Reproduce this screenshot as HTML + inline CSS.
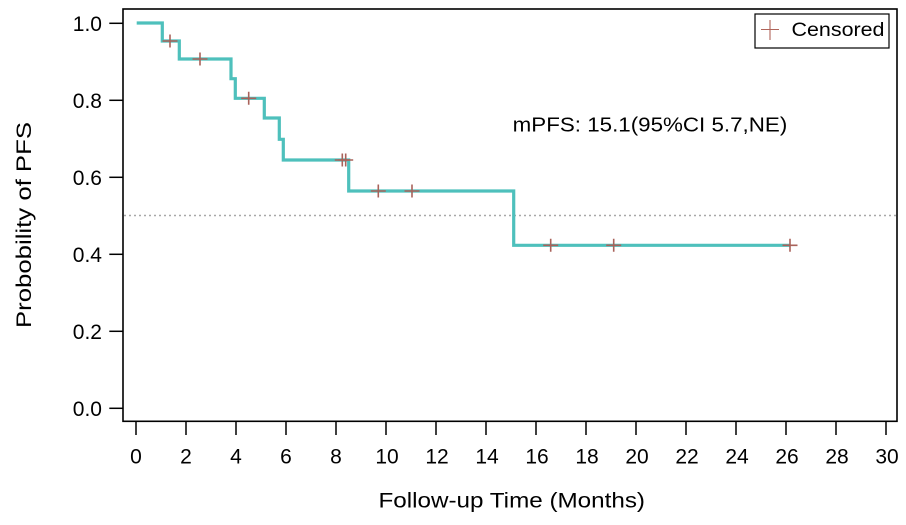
<!DOCTYPE html>
<html><head><meta charset="utf-8"><style>
html,body{margin:0;padding:0;background:#fff;}
svg{display:block;}
text{font-family:"Liberation Sans",Arial,sans-serif;fill:#000;}
</style></head><body>
<svg width="906" height="525" viewBox="0 0 906 525" xmlns="http://www.w3.org/2000/svg">
<rect x="0" y="0" width="906" height="525" fill="#fff"/>
<!-- reference line -->
<line x1="124" y1="215.5" x2="896" y2="215.5" stroke="#a8a8a8" stroke-width="1.5" stroke-dasharray="2 3"/>
<!-- KM curve -->
<polyline fill="none" stroke="#4ec0bc" stroke-width="3.2" stroke-linejoin="miter" points="136.7,23 162.3,23 162.3,41 179.3,41 179.3,59 231,59 231,78.7 235.3,78.7 235.3,98.3 264.3,98.3 264.3,118 279.3,118 279.3,139.3 283.3,139.3 283.3,160 348.7,160 348.7,191 513.7,191 513.7,245.3 790,245.3"/>
<!-- censor marks -->
<g stroke="#a9625a" stroke-width="1.6">
<path d="M162.5,41h15M170,34.5v13"/>
<path d="M192.5,59h15M200,52.5v13"/>
<path d="M241.2,98.3h15M248.7,91.8v13"/>
<path d="M334.8,160h15M342.3,153.5v13"/>
<path d="M338.2,160h15M345.7,153.5v13"/>
<path d="M370.8,191h15M378.3,184.5v13"/>
<path d="M404.5,191h15M412,184.5v13"/>
<path d="M543.2,245.3h15M550.7,238.8v13"/>
<path d="M606.2,245.3h15M613.7,238.8v13"/>
<path d="M782.5,245.3h15M790,238.8v13"/>
</g>
<!-- frame -->
<rect x="123" y="9" width="774" height="412.3" fill="none" stroke="#000" stroke-width="1.6"/>
<!-- y ticks -->
<g stroke="#000" stroke-width="1.5">
<line x1="109.3" y1="23.3" x2="123" y2="23.3"/>
<line x1="109.3" y1="100.3" x2="123" y2="100.3"/>
<line x1="109.3" y1="177.3" x2="123" y2="177.3"/>
<line x1="109.3" y1="254.3" x2="123" y2="254.3"/>
<line x1="109.3" y1="331.3" x2="123" y2="331.3"/>
<line x1="109.3" y1="408.3" x2="123" y2="408.3"/>
</g>
<g font-size="21" text-anchor="end">
<text x="102" y="30.8">1.0</text>
<text x="102" y="107.8">0.8</text>
<text x="102" y="184.8">0.6</text>
<text x="102" y="261.8">0.4</text>
<text x="102" y="338.8">0.2</text>
<text x="102" y="415.8">0.0</text>
</g>
<!-- x ticks -->
<g stroke="#000" stroke-width="1.5">
<line x1="136" y1="421" x2="136" y2="435"/>
<line x1="186" y1="421" x2="186" y2="435"/>
<line x1="236" y1="421" x2="236" y2="435"/>
<line x1="286" y1="421" x2="286" y2="435"/>
<line x1="336" y1="421" x2="336" y2="435"/>
<line x1="386" y1="421" x2="386" y2="435"/>
<line x1="436" y1="421" x2="436" y2="435"/>
<line x1="486" y1="421" x2="486" y2="435"/>
<line x1="536" y1="421" x2="536" y2="435"/>
<line x1="586" y1="421" x2="586" y2="435"/>
<line x1="636" y1="421" x2="636" y2="435"/>
<line x1="686" y1="421" x2="686" y2="435"/>
<line x1="736" y1="421" x2="736" y2="435"/>
<line x1="786" y1="421" x2="786" y2="435"/>
<line x1="836" y1="421" x2="836" y2="435"/>
<line x1="886" y1="421" x2="886" y2="435"/>
</g>
<g font-size="21" text-anchor="middle">
<text x="136" y="463.3">0</text>
<text x="186" y="463.3">2</text>
<text x="236" y="463.3">4</text>
<text x="286" y="463.3">6</text>
<text x="336" y="463.3">8</text>
<text x="387" y="463.3">10</text>
<text x="437" y="463.3">12</text>
<text x="487" y="463.3">14</text>
<text x="537" y="463.3">16</text>
<text x="587" y="463.3">18</text>
<text x="637" y="463.3">20</text>
<text x="687" y="463.3">22</text>
<text x="737" y="463.3">24</text>
<text x="787" y="463.3">26</text>
<text x="837" y="463.3">28</text>
<text x="887" y="463.3">30</text>
</g>
<!-- axis titles -->
<text x="378.5" y="507.5" font-size="21" textLength="266.5" lengthAdjust="spacingAndGlyphs">Follow-up Time (Months)</text>
<text transform="translate(31,328) rotate(-90)" font-size="21" textLength="206" lengthAdjust="spacingAndGlyphs">Probobility of PFS</text>
<!-- annotation -->
<text x="512.7" y="131.7" font-size="20.5" textLength="274.6" lengthAdjust="spacingAndGlyphs">mPFS: 15.1(95%CI 5.7,NE)</text>
<!-- legend -->
<rect x="755" y="14" width="134" height="34" fill="#fff" stroke="#000" stroke-width="1.2"/>
<g stroke="#b0655a" stroke-width="1.1">
<line x1="761" y1="29.5" x2="779" y2="29.5"/>
<line x1="770" y1="20" x2="770" y2="40"/>
</g>
<text x="791.5" y="36" font-size="19.5" textLength="93" lengthAdjust="spacingAndGlyphs">Censored</text>
</svg>
</body></html>
